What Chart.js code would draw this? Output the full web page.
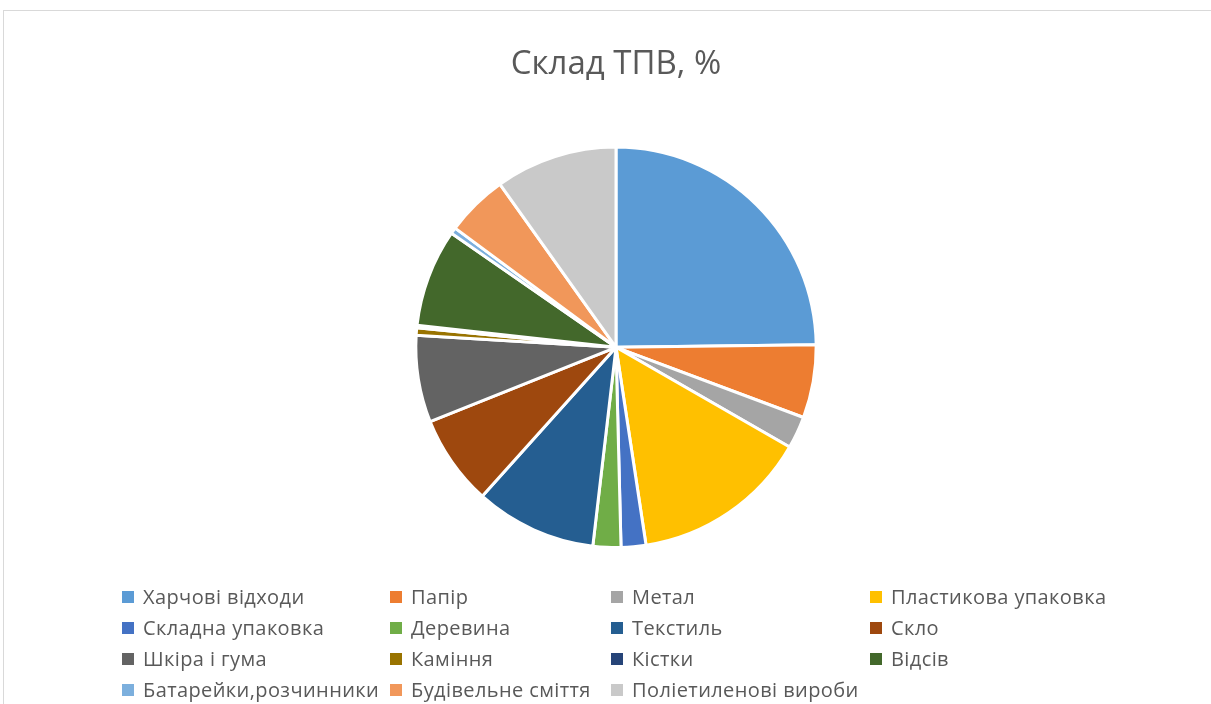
<!DOCTYPE html>
<html>
<head>
<meta charset="utf-8">
<script src="https://cdn.jsdelivr.net/npm/chart.js@4"></script>
<style>
  body { margin: 0; background: #fff; overflow: hidden; }
  #wrap { position: relative; width: 1211px; height: 704px; }
  #frame { position: absolute; left: 3px; top: 10px; width: 1230px; height: 720px; border: 1px solid #d9d9d9; }
  #pie { position: absolute; left: 0; top: 0; }
  .item { position: absolute; font-family: "Open Sans", sans-serif; font-size: 20px; letter-spacing: 0.4px; color: #595959; white-space: nowrap; line-height: 20px; }
  .item span { position: absolute; left: 0; top: 4px; width: 12px; height: 12px; }
  .item b { font-weight: normal; margin-left: 21px; }
</style>
</head>
<body>
<div id="wrap">
  <div id="frame"></div>
  <canvas id="pie" width="1211" height="704"></canvas>
  <div id="legend"></div>
</div>
<script>
var labels = ['Харчові відходи', 'Папір', 'Метал', 'Пластикова упаковка',
  'Складна упаковка', 'Деревина', 'Текстиль', 'Скло',
  'Шкіра і гума', 'Каміння', 'Кістки', 'Відсів',
  'Батарейки,розчинники', 'Будівельне сміття', 'Поліетиленові вироби'];
var shares = [24.8, 5.9, 2.6, 14.3, 2.0, 2.25, 9.8, 7.3, 7.0, 0.6, 0.2, 7.9, 0.5, 5.0, 9.85];
var colors = ['#5B9BD5', '#ED7D31', '#A5A5A5', '#FFC000', '#4472C4', '#70AD47', '#255E91', '#9E480E',
  '#636363', '#997300', '#264478', '#43682B', '#7CAFDD', '#F1975A', '#C9C9C9'];

// legend grid (Excel-like 4 columns)
var colX = [122, 390, 611, 870];
var rowY = [587, 618, 649, 680];
var legend = document.getElementById('legend');
labels.forEach(function (name, i) {
  var d = document.createElement('div');
  d.className = 'item';
  d.style.left = colX[i % 4] + 'px';
  d.style.top = rowY[Math.floor(i / 4)] + 'px';
  d.innerHTML = '<span style="background:' + colors[i] + '"></span><b>' + name + '</b>';
  legend.appendChild(d);
});

var ctx = document.getElementById('pie').getContext('2d');
var myChart = new Chart(ctx, {
  type: 'pie',
  data: {
    labels: labels,
    datasets: [{
      data: shares,
      backgroundColor: colors,
      borderColor: '#ffffff',
      borderWidth: 3
    }]
  },
  options: {
    responsive: false,
    animation: false,
    layout: { padding: { left: 316, right: 295, top: 0, bottom: 155 } },
    plugins: {
      legend: { display: false },
      tooltip: { enabled: false },
      title: {
        display: true,
        text: 'Склад ТПВ, %',
        color: '#595959',
        font: { family: 'Open Sans', size: 33, weight: 'normal', lineHeight: 1.2 },
        padding: { top: 45, bottom: 61 }
      }
    }
  }
});
</script>
</body>
</html>
